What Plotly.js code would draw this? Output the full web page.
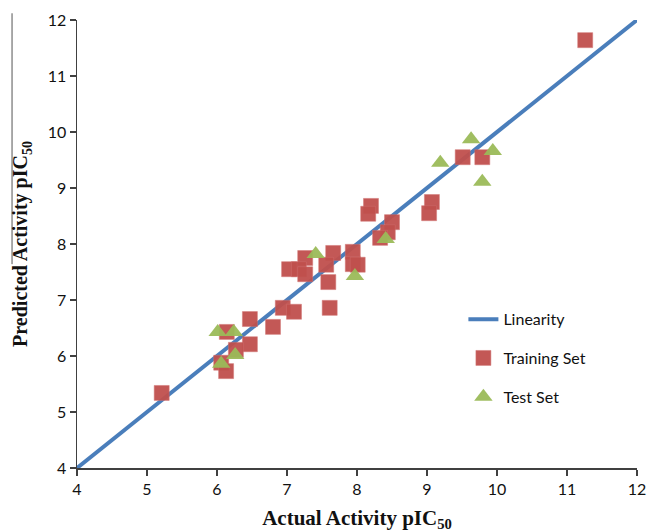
<!DOCTYPE html>
<html>
<head>
<meta charset="utf-8">
<script src="https://cdn.plot.ly/plotly-3.0.1.min.js"></script>
<style>html,body{margin:0;padding:0;background:#fff;}#chart{width:649px;height:532px;}</style>
</head>
<body>
<div id="chart"></div>
<script>
// Linearity line (y = x)
const lineX = [4, 12];
const lineY = [4, 12];

// Training set (squares)
const trainActual = [5.21, 11.26, 6.47, 6.80, 6.94, 7.10, 6.14, 6.47, 6.27, 6.06, 6.13,
  8.20, 8.16, 8.50, 8.44, 8.33, 7.66, 7.94, 7.26, 7.03, 7.17, 7.26, 7.56, 7.94, 8.01, 7.59, 7.61,
  9.51, 9.79, 9.07, 9.03];
const trainPred = [5.34, 11.64, 6.66, 6.52, 6.86, 6.79, 6.43, 6.21, 6.11, 5.88, 5.73,
  8.68, 8.54, 8.39, 8.21, 8.11, 7.84, 7.86, 7.75, 7.55, 7.55, 7.46, 7.63, 7.64, 7.63, 7.32, 6.86,
  9.55, 9.55, 8.75, 8.55];

// Test set (triangles)
const testActual = [6.01, 6.24, 6.26, 6.06, 7.41, 7.97, 8.41, 9.63, 9.94, 9.19, 9.79];
const testPred = [6.43, 6.43, 6.02, 5.86, 7.82, 7.43, 8.09, 9.87, 9.66, 9.45, 9.11];

const tickVals = [4, 5, 6, 7, 8, 9, 10, 11, 12];
const tickText = ['4', '5', '6', '7', '8', '9', '10', '11', '12'];

const traces = [
  {x: lineX, y: lineY, type: 'scatter', mode: 'lines', name: 'Linearity',
   legendgroup: 'a', line: {color: '#4a7ebb', width: 4}},
  {x: trainActual, y: trainPred, type: 'scatter', mode: 'markers', name: 'Training Set',
   legendgroup: 'b', marker: {symbol: 'square', size: 15, color: '#c0504d', opacity: 0.95,
   line: {width: 0.5, color: '#d07070'}}},
  {x: testActual, y: testPred, type: 'scatter', mode: 'markers', name: 'Test Set',
   legendgroup: 'c', marker: {symbol: 'triangle-up', size: 16, color: '#9bbb59', opacity: 0.95,
   line: {width: 0}}}
];

const axisCommon = {
  showgrid: false, zeroline: false, showline: true, linecolor: '#404040', linewidth: 1.5,
  ticks: 'outside', ticklen: 6, tickcolor: '#404040', tickwidth: 1.5,
  tickfont: {family: 'Lato, "Open Sans", sans-serif', size: 16, color: '#111'},
  tickvals: tickVals, ticktext: tickText, range: [4, 12], autorange: false, fixedrange: true
};

const layout = {
  width: 649, height: 532,
  margin: {l: 77, r: 12, t: 20, b: 64},
  paper_bgcolor: '#fff', plot_bgcolor: '#fff',
  showlegend: true,
  legend: {x: 0.69, y: 0.37, xanchor: 'left', yanchor: 'top', traceorder: 'grouped',
    tracegroupgap: 15, bgcolor: 'rgba(0,0,0,0)',
    font: {family: 'Lato, "Open Sans", sans-serif', size: 16, color: '#111'}},
  xaxis: Object.assign({}, axisCommon, {
    title: {text: 'Actual Activity pIC<sub>50</sub>', standoff: 13,
      font: {family: '"Liberation Serif", "Times New Roman", serif', size: 21, color: '#111', weight: 'bold'}}
  }),
  yaxis: Object.assign({}, axisCommon, {
    title: {text: 'Predicted Activity pIC<sub>50</sub>', standoff: 14,
      font: {family: '"Liberation Serif", "Times New Roman", serif', size: 20, color: '#111', weight: 'bold'}}
  }),
  shapes: [
    {type: 'line', xref: 'paper', yref: 'paper', x0: -0.116, x1: -0.116, y0: 1.015, y1: 0.455,
     line: {color: '#555', width: 1}}
  ]
};

Plotly.newPlot('chart', traces, layout, {displayModeBar: false, staticPlot: true});
</script>
</body>
</html>
